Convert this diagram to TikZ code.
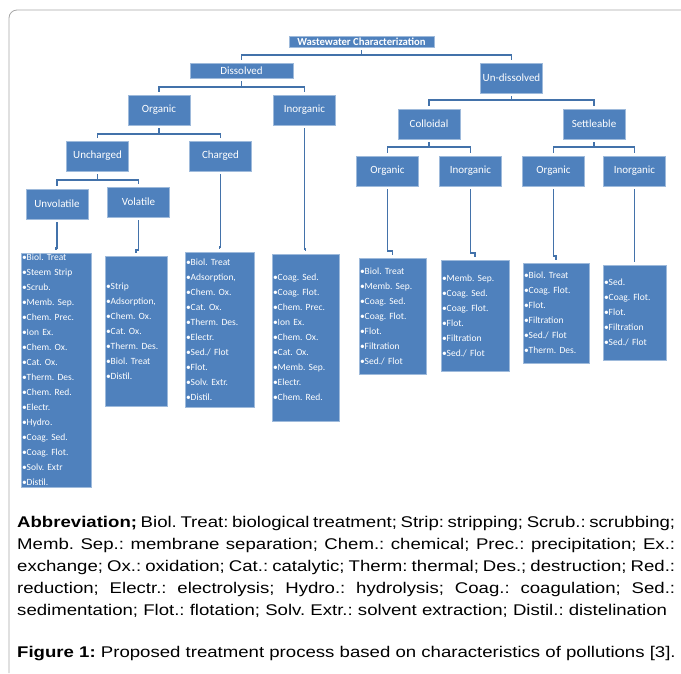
\documentclass[tikz,border=0pt]{standalone}
\usepackage{fontspec}
\setmainfont{Carlito}
\newfontfamily\capfont[FakeStretch=1.2]{Liberation Sans}
\definecolor{boxblue}{HTML}{4F81BD}
\definecolor{linkblue}{HTML}{4372AA}
\definecolor{framegray}{HTML}{A6A6A6}
\frenchspacing

\begin{document}
\begin{tikzpicture}[
  x=1pt, y=-1pt,
  cat node/.style={
    fill=boxblue, draw=boxblue!55!white, line width=0.4pt, text=white,
    minimum width=62pt, minimum height=30pt, inner sep=0pt,
    font=\fontsize{11}{12}\selectfont
  },
  title node/.style={
    cat node, minimum width=145pt, minimum height=11pt,
    font=\fontsize{10.7}{11}\selectfont\bfseries
  },
  list node/.style={
    fill=boxblue, draw=boxblue!55!white, line width=0.4pt, text=white,
    inner xsep=1pt, inner ysep=0pt, align=left,
    font=\fontsize{9.5}{15}\selectfont
  },
  link/.style={
    draw=linkblue, line width=1.8pt, shorten <=3pt, shorten >=3pt
  },
  tick/.style={
    link, shorten >=0pt
  }
  ]
  \useasboundingbox (0,0) rectangle (681,673);
  % frame
  \draw[framegray, line width=0.8pt, rounded corners=8pt] (9,673) -- (9,10) -- (681,10);

  % tree boxes
  \node[title node] (wc) at (361.5,41.5) {Wastewater Characterization};
  \node[cat node, minimum width=103pt, minimum height=15pt] (dis) at (241.5,70.5) {Dissolved};
  \node[cat node] (undis) at (511.5,78) {Un-dissolved};
  \node[cat node] (dorg) at (159,110) {Organic};
  \node[cat node] (dinorg) at (304.5,110) {Inorganic};
  \node[cat node] (unch) at (97.5,156) {Uncharged};
  \node[cat node] (chg) at (220.5,156) {Charged};
  \node[cat node] (unvol) at (57,204) {Unvolatile};
  \node[cat node] (vol) at (138.5,202) {Volatile};
  \node[cat node] (coll) at (429,124) {Colloidal};
  \node[cat node] (sett) at (594,124) {Settleable};
  \node[cat node] (corg) at (387.5,171) {Organic};
  \node[cat node] (cinorg) at (470.5,171) {Inorganic};
  \node[cat node] (sorg) at (553.5,171) {Organic};
  \node[cat node] (sinorg) at (634.5,171) {Inorganic};

  % treatment lists
  \node[list node, text width=68pt, minimum height=234pt] (unvol list) at (56,370) {
    \textbullet Biol. Treat\\ \textbullet Steem Strip\\ \textbullet Scrub.\\ \textbullet Memb. Sep.\\
    \textbullet Chem. Prec.\\ \textbullet Ion Ex.\\ \textbullet Chem. Ox.\\ \textbullet Cat. Ox.\\
    \textbullet Therm. Des.\\ \textbullet Chem. Red.\\ \textbullet Electr.\\ \textbullet Hydro.\\
    \textbullet Coag. Sed.\\ \textbullet Coag. Flot.\\ \textbullet Solv. Extr\\ \textbullet Distil.};
  \node[list node, text width=60pt, minimum height=150pt] (vol list) at (136,331) {
    \textbullet Strip\\ \textbullet Adsorption,\\ \textbullet Chem. Ox.\\ \textbullet Cat. Ox.\\
    \textbullet Therm. Des.\\ \textbullet Biol. Treat\\ \textbullet Distil.};
  \node[list node, text width=67pt, minimum height=155pt] (chg list) at (219.5,329.5) {
    \textbullet Biol. Treat\\ \textbullet Adsorption,\\ \textbullet Chem. Ox.\\ \textbullet Cat. Ox.\\
    \textbullet Therm. Des.\\ \textbullet Electr.\\ \textbullet Sed./ Flot\\ \textbullet Flot.\\
    \textbullet Solv. Extr.\\ \textbullet Distil.};
  \node[list node, text width=65pt, minimum height=167pt] (dinorg list) at (305.5,337.5) {
    \textbullet Coag. Sed.\\ \textbullet Coag. Flot.\\ \textbullet Chem. Prec.\\ \textbullet Ion Ex.\\
    \textbullet Chem. Ox.\\ \textbullet Cat. Ox.\\ \textbullet Memb. Sep.\\ \textbullet Electr.\\
    \textbullet Chem. Red.};
  \node[list node, text width=65pt, minimum height=116pt] (corg list) at (392.5,316) {
    \textbullet Biol. Treat\\ \textbullet Memb. Sep.\\ \textbullet Coag. Sed.\\ \textbullet Coag. Flot.\\
    \textbullet Flot.\\ \textbullet Filtration\\ \textbullet Sed./ Flot};
  \node[list node, text width=66pt, minimum height=111pt] (cinorg list) at (475,315.5) {
    \textbullet Memb. Sep.\\ \textbullet Coag. Sed.\\ \textbullet Coag. Flot.\\ \textbullet Flot.\\
    \textbullet Filtration\\ \textbullet Sed./ Flot};
  \node[list node, text width=64pt, minimum height=100pt] (sorg list) at (556,313) {
    \textbullet Biol. Treat\\ \textbullet Coag. Flot.\\ \textbullet Flot.\\ \textbullet Filtration\\
    \textbullet Sed./ Flot\\ \textbullet Therm. Des.};
  \node[list node, text width=61pt, minimum height=95pt] (sinorg list) at (634.5,312.5) {
    \textbullet Sed.\\ \textbullet Coag. Flot.\\ \textbullet Flot.\\ \textbullet Filtration\\
    \textbullet Sed./ Flot};

  % branches
  \draw[tick] (wc.south) -- (wc.south |- 0,55);
  \draw[link] (dis.north) |- (wc.south |- 0,55) -| (undis.north);
  \draw[tick] (dis.south) -- (dis.south |- 0,87);
  \draw[link] (dorg.north) |- (dis.south |- 0,87) -| (dinorg.north);
  \draw[tick] (dorg.south) -- (dorg.south |- 0,134);
  \draw[link] (unch.north) |- (dorg.south |- 0,134) -| (chg.north);
  \draw[tick] (unch.south) -- (unch.south |- 0,180);
  \draw[link] (unvol.north) |- (unch.south |- 0,180) -| (vol.north);
  \draw[tick] (undis.south) -- (undis.south |- 0,100);
  \draw[link] (coll.north) |- (undis.south |- 0,100) -| (sett.north);
  \draw[tick] (coll.south) -- (coll.south |- 0,147);
  \draw[link] (corg.north) |- (coll.south |- 0,147) -| (cinorg.north);
  \draw[tick] (sett.south) -- (sett.south |- 0,147);
  \draw[link] (sorg.north) |- (sett.south |- 0,147) -| (sinorg.north);

  % down to the lists
  \draw[link] (unvol.south) |- ([yshift=5pt]unvol list.north) -- (unvol list.north);
  \draw[link] (vol.south) |- ([yshift=6pt]vol list.north) -- (vol list.north);
  \draw[link] (chg.south) |- ([yshift=5pt]chg list.north) -- (chg list.north);
  \draw[link] (dinorg.south) |- ([yshift=5pt]dinorg list.north) -- (dinorg list.north);
  \draw[link] (corg.south) |- ([yshift=7pt]corg list.north) -- (corg list.north);
  \draw[link] (cinorg.south) |- ([yshift=7pt]cinorg list.north) -- (cinorg list.north);
  \draw[link] (sorg.south) |- ([yshift=7pt]sorg list.north) -- (sorg list.north);
  \draw[link] (sinorg.south) |- ([yshift=7pt]sinorg list.north) -- (sinorg list.north);

  % caption
  \node[anchor=north west, inner sep=0pt, text width=658pt, align=justify,
    font=\capfont\fontsize{15.5}{22}\selectfont] (abbr) at (17,516.5) {\parfillskip=0pt
    \textbf{Abbreviation;} Biol. Treat: biological treatment; Strip: stripping; Scrub.: scrubbing;\linebreak
    Memb. Sep.: membrane separation; Chem.: chemical; Prec.: precipitation; Ex.:\linebreak
    exchange; Ox.: oxidation; Cat.: catalytic; Therm: thermal; Des.; destruction; Red.:\linebreak
    reduction; Electr.: electrolysis; Hydro.: hydrolysis; Coag.: coagulation; Sed.:\linebreak
    sedimentation; Flot.: flotation; Solv. Extr.: solvent extraction; Distil.: distelination};
  \node[anchor=base west, inner sep=0pt, font=\capfont\fontsize{15.5}{22}\selectfont] (fig)
    at (17,657.5) {\textbf{Figure 1:} Proposed treatment process based on characteristics of pollutions [3].};
\end{tikzpicture}
\end{document}
